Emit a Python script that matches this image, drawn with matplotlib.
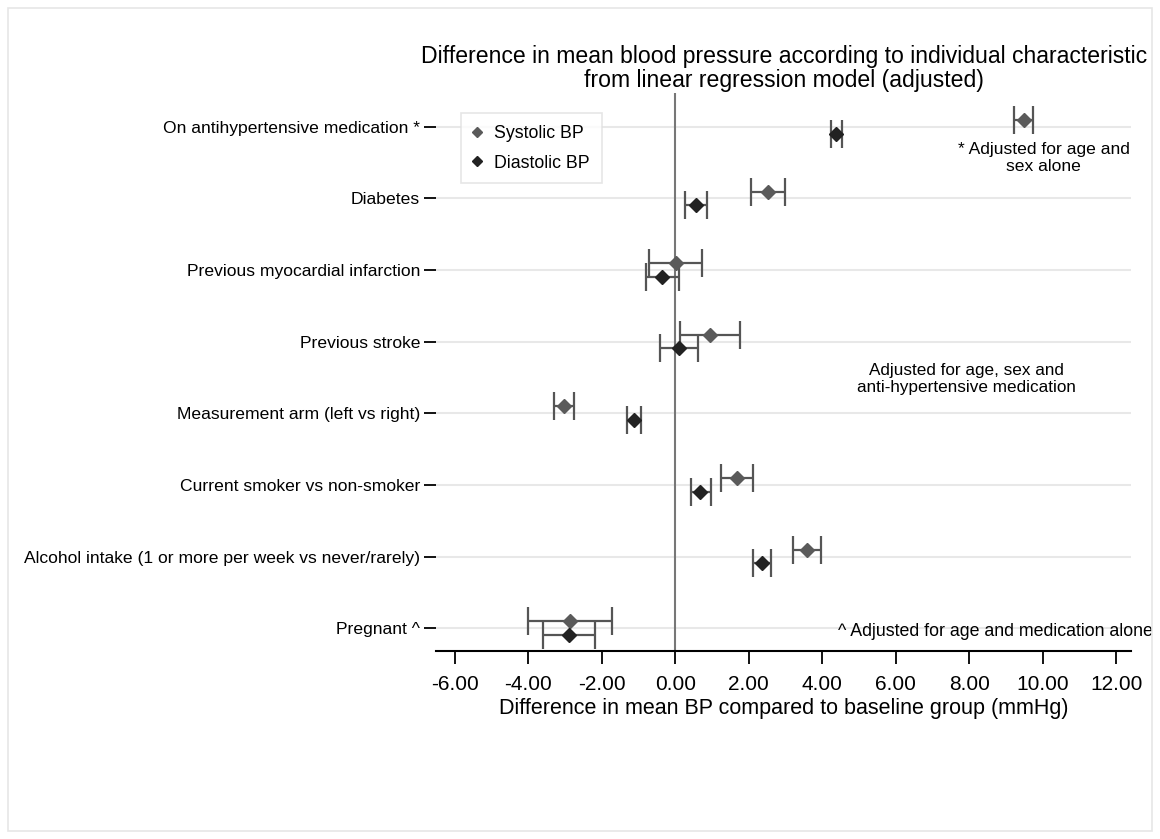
import numpy as np
import matplotlib.pyplot as plt
from matplotlib.patches import Rectangle

plt.rcParams['font.family'] = ['Liberation Sans', 'DejaVu Sans']

categories = [
    "On antihypertensive medication *",
    "Diabetes",
    "Previous myocardial infarction",
    "Previous stroke",
    "Measurement arm (left vs right)",
    "Current smoker vs non-smoker",
    "Alcohol intake (1 or more per week vs never/rarely)",
    "Pregnant ^",
]

sys_mean = [9.49, 2.52, 0.02, 0.95, -3.03, 1.67, 3.59, -2.85]
sys_low = [9.21, 2.07, -0.71, 0.12, -3.30, 1.24, 3.21, -4.00]
sys_high = [9.73, 2.99, 0.72, 1.76, -2.75, 2.12, 3.98, -1.71]

dia_mean = [4.38, 0.56, -0.35, 0.11, -1.13, 0.68, 2.36, -2.90]
dia_low = [4.23, 0.28, -0.78, -0.40, -1.30, 0.42, 2.13, -3.59]
dia_high = [4.54, 0.87, 0.11, 0.62, -0.93, 0.97, 2.60, -2.18]

xticks = [-6, -4, -2, 0, 2, 4, 6, 8, 10, 12]


def plot_series(ax, y, mean, low, high, color, label):
    mean = np.array(mean)
    err = [mean - np.array(low), np.array(high) - mean]
    ax.errorbar(mean, y, xerr=err, fmt="none", ecolor="#555555",
                elinewidth=1.6, capsize=10, capthick=1.6, zorder=3)
    ax.plot(mean, y, "D", color=color, markersize=7, label=label,
            linestyle="none", zorder=4)


def main():
    fig = plt.figure(figsize=(11.6, 8.39), dpi=100)
    fig.patches.append(Rectangle((0.007, 0.01), 0.986, 0.98, transform=fig.transFigure,
                                 fill=False, edgecolor="#e6e6e6", linewidth=1.2))
    ax = fig.add_axes([0.376, 0.224, 0.599, 0.665])

    y = np.arange(len(categories))
    off = 0.095

    for yy in y:
        ax.axhline(yy, color="#e8e8e8", linewidth=1.5, zorder=1)
    ax.axvline(0, color="#777777", linewidth=1.5, zorder=2)

    plot_series(ax, y - off, sys_mean, sys_low, sys_high, "#5a5a5a", "Systolic BP")
    plot_series(ax, y + off, dia_mean, dia_low, dia_high, "#222222", "Diastolic BP")

    ax.set_ylim(7.32, -0.47)
    ax.set_xlim(-6.5, 12.4)
    ax.set_yticks(y)
    ax.set_yticklabels(categories, fontsize=12.6)
    ax.set_xticks(xticks)
    ax.set_xticklabels([f"{v:.2f}" for v in xticks], fontsize=15)
    ax.tick_params(axis="y", length=8.6, width=1.3, pad=3)
    ax.tick_params(axis="x", length=9.4, width=1.3, pad=8)

    for s in ["top", "right", "left"]:
        ax.spines[s].set_visible(False)
    ax.spines["bottom"].set_linewidth(1.5)

    ax.set_xlabel("Difference in mean BP compared to baseline group (mmHg)",
                  fontsize=15.5, labelpad=2.5)
    fig.text(0.676, 0.918, "Difference in mean blood pressure according to individual characteristic\n"
             "from linear regression model (adjusted)", ha="center", va="center",
             fontsize=16.6, linespacing=1.05)

    ax.text(10.02, 0.44, "* Adjusted for age and\nsex alone", ha="center", va="center",
            fontsize=12.6, linespacing=1.15)
    ax.text(7.92, 3.52, "Adjusted for age, sex and\nanti-hypertensive medication",
            ha="center", va="center", fontsize=12.3, linespacing=1.15)
    ax.text(13.0, 7.04, "^ Adjusted for age and medication alone", ha="right",
            va="center", fontsize=12.8, clip_on=False)

    leg = ax.legend(loc="upper left", bbox_to_anchor=(0.036, 0.964), fontsize=12.8,
                    frameon=True, fancybox=False, handletextpad=0.71,
                    handlelength=0.5, borderpad=0.66, labelspacing=0.71,
                    borderaxespad=0, markerscale=0.8)
    leg.get_frame().set_edgecolor("#e0e0e0")
    leg.get_frame().set_linewidth(1.2)

    fig.savefig("out.png", dpi=100)


if __name__ == "__main__":
    main()
